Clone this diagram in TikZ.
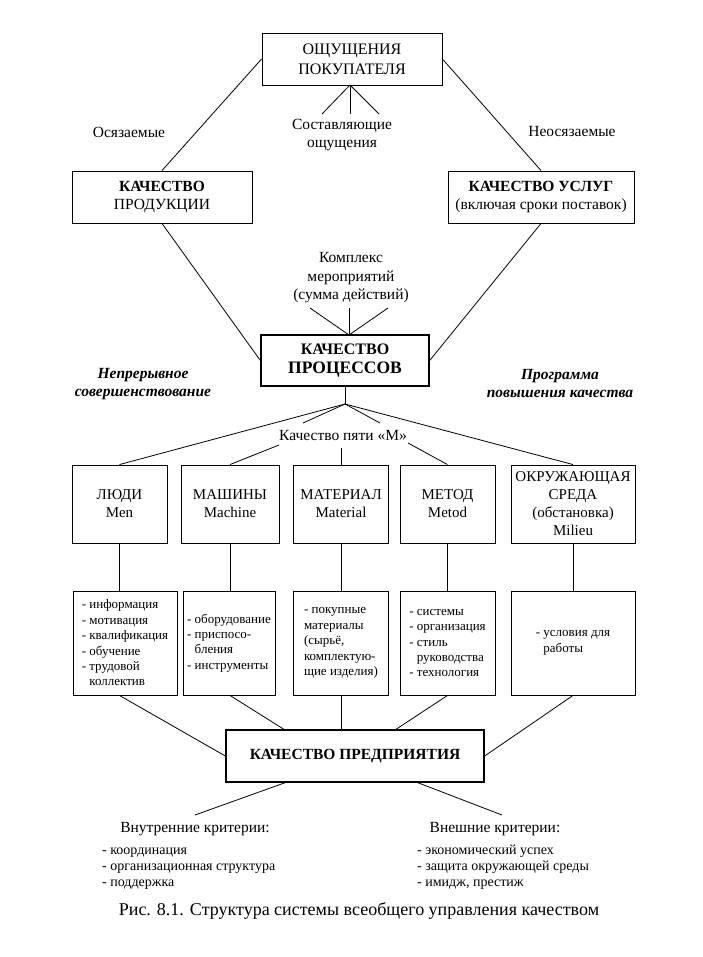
\documentclass[tikz,border=0pt]{standalone}
\usepackage{fontspec}
\setmainfont{Liberation Serif}
\begin{document}
\begin{tikzpicture}[x=1pt,y=-1pt,
        every node/.style={inner sep=0pt,font=\fontsize{15.5}{18.5}\selectfont},
        box/.style={draw,line width=0.9pt,align=center},
        mainbox/.style={box,line width=1.3pt,font=\fontsize{16}{19}\selectfont\bfseries},
        mbox/.style={box,minimum width=95,minimum height=78,font=\fontsize{15}{18}\selectfont},
        listbox/.style={box,align=left,minimum height=104,font=\fontsize{13}{15.4}\selectfont},
        link/.style={line width=0.8pt},
        note/.style={align=center},
        itnote/.style={align=center,font=\fontsize{15.5}{18}\selectfont\bfseries\itshape},
        crit/.style={align=left,anchor=north west,font=\fontsize{14}{16.2}\selectfont}]
        \useasboundingbox (0,0) rectangle (702,957);
        \node[box,minimum width=180,minimum height=52,font=\fontsize{16}{20}\selectfont] (feel) at (352,59) {ОЩУЩЕНИЯ\\ПОКУПАТЕЛЯ};
        \node[box,minimum width=180,minimum height=52] (prod) at (162,197) {\textbf{КАЧЕСТВО}\\ПРОДУКЦИИ};
        \node[box,minimum width=186,minimum height=52] (svc) at (541,197) {\textbf{КАЧЕСТВО УСЛУГ}\\(включая сроки поставок)};
        \node[mainbox,minimum width=168,minimum height=51] (proc) at (345,360.5) {КАЧЕСТВО\\{\fontsize{17.5}{19}\selectfont ПРОЦЕССОВ}};
        \node (tang) at (129,132) {Осязаемые};
        \node (intang) at (572,132) {Неосязаемые};
        \node[note] (sost) at (342,135) {Составляющие\\ощущения};
        \node[note] (kompl) at (351,278) {Комплекс\\мероприятий\\(сумма действий)};
        \node[itnote] (impr) at (143,384) {Непрерывное\\совершенствование};
        \node[itnote] (prog) at (560,384) {Программа\\повышения качества};
        \node (fivem) at (343,435) {Качество пяти «М»};
        \node[mbox] (men) at (119.5,504) {ЛЮДИ\\Men};
        \node[mbox,minimum width=98] (mach) at (230,504) {МАШИНЫ\\Machine};
        \node[mbox] (mat) at (341,504) {МАТЕРИАЛ\\Material};
        \node[mbox] (meth) at (447.5,504) {МЕТОД\\Metod};
        \node[mbox,minimum width=124] (mil) at (573,504) {ОКРУЖАЮЩАЯ\\СРЕДА\\(обстановка)\\Milieu};
        \node[listbox,minimum width=104] (menl) at (125,643) {- информация\\- мотивация\\- квалификация\\- обучение\\- трудовой\\\phantom{- }коллектив};
        \node[listbox,minimum width=92] (machl) at (229,643) {- оборудование\\- приспосо-\\\phantom{- }бления\\- инструменты};
        \node[listbox,minimum width=95] (matl) at (341,643) {- покупные\\материалы\\(сырьё,\\комплектую-\\щие изделия)};
        \node[listbox,minimum width=95] (methl) at (447.5,643) {- системы\\- организация\\- стиль\\\phantom{- }руководства\\- технология};
        \node[listbox,minimum width=124] (mill) at (573,643) {- условия для\\\phantom{- }работы};
        \node[mainbox,minimum width=258,minimum height=52,font=\fontsize{15.5}{19}\selectfont\bfseries] (firm) at (355,756) {КАЧЕСТВО ПРЕДПРИЯТИЯ};
        \node (intc) at (195,829) {Внутренние критерии:};
        \node (extc) at (495,829) {Внешние критерии:};
        \node[crit] (intl) at (102,843) {\strut- координация\\- организационная структура\\- поддержка};
        \node[crit] (extl) at (417,843) {\strut- экономический успех\\- защита окружающей среды\\- имидж, престиж};
        \node[font=\fontsize{18}{20}\selectfont] (cap) at (359,911) {Рис. 8.1. Структура системы всеобщего управления качеством};
        \coordinate (sa) at (322,114);
        \coordinate (sb) at (350,114);
        \coordinate (sc) at (379,114);
        \coordinate (pk) at (349,335);
        \coordinate (ka) at (310,308);
        \coordinate (kb) at (349,308);
        \coordinate (kc) at (388,308);
        \coordinate (hub) at (345,404);
        \coordinate (ma) at (303,423);
        \coordinate (mb) at (380,423);
        \coordinate (la) at (279,445);
        \coordinate (lb) at (341,448);
        \coordinate (lc) at (408,443);
        \coordinate (fa) at (285,730);
        \coordinate (fc) at (395,730);
        \coordinate (ga) at (287,782);
        \coordinate (gb) at (416,782);
        \coordinate (ia) at (195,815);
        \coordinate (ea) at (502,815);
        \draw[link] (feel.west) -- (prod.north);
        \draw[link] (feel.east) -- (svc.north);
        \foreach \p in {sa,sb,sc}
            \draw[link] (350,85) -- (\p);
        \draw[link] (prod.south) -- (proc.west);
        \draw[link] (svc.south) -- (proc.east);
        \foreach \p in {ka,kb,kc}
            \draw[link] (\p) -- (pk);
        \draw[link] (proc.south) -- (hub);
        \draw[link] (hub) -- (men.north);
        \draw[link] (hub) -- (mil.north);
        \draw[link] (hub) -- (ma);
        \draw[link] (hub) -- (mb);
        \draw[link] (la) -- (mach.north);
        \draw[link] (lb) -- (mat.north);
        \draw[link] (lc) -- (meth.north);
        \foreach \a/\b in {men/menl,mach/machl,mat/matl,meth/methl,mil/mill}
            \draw[link] (\a.south) -- (\a.south |- \b.north);
        \draw[link] (men.south |- menl.south) -- (firm.west);
        \draw[link] (mach.south |- machl.south) -- (fa);
        \draw[link] (matl.south) -- (matl.south |- firm.north);
        \draw[link] (meth.south |- methl.south) -- (fc);
        \draw[link] (mil.south |- mill.south) -- (firm.east);
        \draw[link] (ga) -- (ia);
        \draw[link] (gb) -- (ea);
    \end{tikzpicture}
\end{document}
